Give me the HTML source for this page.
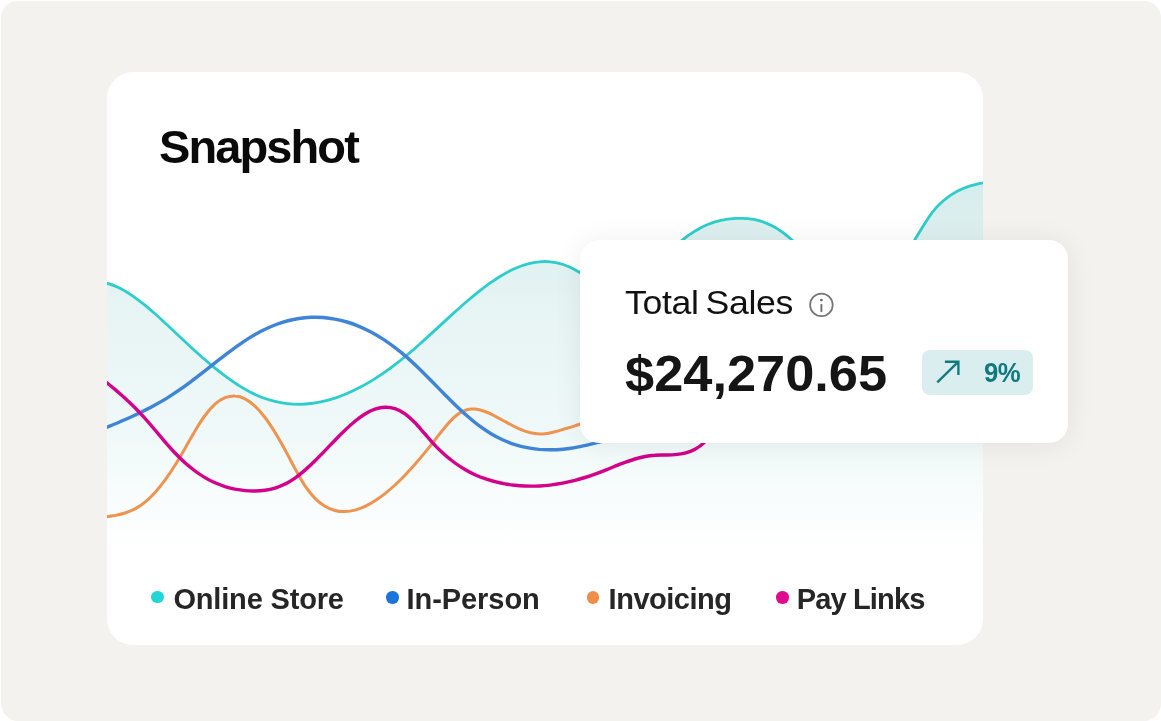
<!DOCTYPE html>
<html lang="en"><head><meta charset="utf-8"><title>Snapshot</title>
<style>
html,body{margin:0;padding:0;background:#fff;}
body{width:1161px;height:721px;overflow:hidden;position:relative;font-family:"Liberation Sans",sans-serif;}
.bg{position:absolute;left:0.6px;top:0.6px;width:1160.4px;height:720.4px;background:#f3f2ee;border-radius:17px;}
.card{position:absolute;left:107px;top:72px;width:875.5px;height:573px;background:#fff;border-radius:26px;overflow:hidden;}
.card svg{position:absolute;left:0;top:0;}
.title{position:absolute;left:159px;top:119.5px;font-size:47px;font-weight:700;color:#0a0a0a;letter-spacing:-1.9px;line-height:54px;white-space:nowrap;}
.legend{position:absolute;top:582.4px;height:34px;line-height:34px;font-size:29px;font-weight:700;color:#262626;white-space:nowrap;}
.dot{position:absolute;width:12.5px;height:12.5px;border-radius:50%;}
.tip{position:absolute;left:579.6px;top:239.5px;width:488.4px;height:203.5px;background:#fff;border-radius:19px;box-shadow:0 2px 28px rgba(0,0,0,.075);}
.ts{position:absolute;left:625px;top:283px;font-size:33px;line-height:40px;color:#111;white-space:nowrap;letter-spacing:-0.3px;word-spacing:-2.5px;transform:scaleX(1.08);transform-origin:0 0;}
.amt{position:absolute;left:625px;top:344.5px;font-size:49.5px;line-height:58px;font-weight:700;color:#151515;white-space:nowrap;letter-spacing:0;transform:scaleX(1.058);transform-origin:0 0;}
.badge{position:absolute;left:922px;top:350px;width:111px;height:45px;border-radius:8px;background:#dbeeef;}
.pct{position:absolute;left:983.8px;top:356.6px;font-size:28px;line-height:32px;font-weight:700;color:#117a80;white-space:nowrap;letter-spacing:-0.5px;transform:scaleX(.92);transform-origin:0 0;}
.ico{position:absolute;left:0;top:0;}
</style></head><body>
<div class="bg"></div>
<div class="card">
<svg width="876" height="573" viewBox="107 72 876 573">
<defs><linearGradient id="g" x1="0" y1="180" x2="0" y2="548" gradientUnits="userSpaceOnUse">
<stop offset="0" stop-color="#d6ecec"/><stop offset="0.33" stop-color="#e6f4f3"/><stop offset="0.7" stop-color="#f0f9f9"/><stop offset="1" stop-color="#ffffff"/></linearGradient></defs>
<path d="M95.0,281.3 C97.0,281.6 103.0,282.1 107.0,283.2 C111.0,284.2 115.0,285.9 119.0,287.8 C123.0,289.7 127.0,292.2 131.0,294.8 C135.0,297.4 139.0,300.5 143.0,303.6 C147.0,306.8 151.0,310.3 155.0,313.8 C159.0,317.3 163.0,321.1 167.0,324.8 C171.0,328.5 175.0,332.3 179.0,336.1 C183.0,339.8 187.0,343.6 191.0,347.2 C195.0,350.9 199.0,354.5 203.0,358.0 C207.0,361.5 211.0,364.9 215.0,368.2 C219.0,371.4 223.0,374.5 227.0,377.4 C231.0,380.4 235.0,383.1 239.0,385.6 C243.0,388.1 247.0,390.4 251.0,392.5 C255.0,394.5 259.0,396.3 263.0,397.8 C267.0,399.3 271.0,400.5 275.0,401.4 C279.0,402.4 283.0,403.1 287.0,403.6 C291.0,404.1 295.0,404.3 299.0,404.3 C303.0,404.2 307.0,404.0 311.0,403.5 C315.0,403.0 319.0,402.3 323.0,401.4 C327.0,400.5 331.0,399.4 335.0,398.1 C339.0,396.8 343.0,395.2 347.0,393.5 C351.0,391.8 355.0,389.9 359.0,387.8 C363.0,385.8 367.0,383.5 371.0,381.1 C375.0,378.6 379.0,376.1 383.0,373.3 C387.0,370.6 391.0,367.7 395.0,364.6 C399.0,361.6 403.0,358.4 407.0,355.0 C411.0,351.7 415.0,348.3 419.0,344.7 C423.0,341.2 427.0,337.6 431.0,333.9 C435.0,330.3 439.0,326.5 443.0,322.9 C447.0,319.2 451.0,315.5 455.0,311.9 C459.0,308.3 463.0,304.8 467.0,301.3 C471.0,297.9 475.0,294.6 479.0,291.4 C483.0,288.3 487.0,285.2 491.0,282.4 C495.0,279.7 499.0,277.0 503.0,274.7 C507.0,272.4 511.0,270.2 515.0,268.5 C519.0,266.7 523.0,265.2 527.0,264.1 C531.0,263.0 535.0,262.1 539.0,261.8 C543.0,261.4 547.0,261.4 551.0,261.9 C555.0,262.3 559.0,263.2 563.0,264.5 C567.0,265.8 571.0,267.5 575.0,269.7 C579.0,271.8 583.0,274.4 587.0,277.4 C591.0,280.4 595.2,284.1 599.0,287.7 C602.8,291.4 608.2,297.4 610.0,299.4 L612,330 L664,330 L664.0,258.0 C665.0,256.9 668.0,253.6 670.0,251.5 C672.0,249.5 674.0,247.5 676.0,245.6 C678.0,243.8 680.0,242.0 682.0,240.4 C684.0,238.7 686.0,237.2 688.0,235.7 C690.0,234.3 692.0,232.9 694.0,231.7 C696.0,230.4 698.0,229.3 700.0,228.2 C702.0,227.1 704.0,226.2 706.0,225.3 C708.0,224.4 710.0,223.6 712.0,222.9 C714.0,222.2 716.0,221.6 718.0,221.1 C720.0,220.5 722.0,220.1 724.0,219.8 C726.0,219.4 728.0,219.2 730.0,218.9 C732.0,218.7 734.0,218.5 736.0,218.4 C738.0,218.3 740.0,218.3 742.0,218.3 C744.0,218.3 746.0,218.4 748.0,218.6 C750.0,218.8 752.0,219.0 754.0,219.4 C756.0,219.8 758.0,220.3 760.0,220.9 C762.0,221.6 764.0,222.3 766.0,223.1 C768.0,223.9 770.0,224.8 772.0,225.8 C774.0,226.8 776.0,227.9 778.0,229.2 C780.0,230.4 782.0,231.9 784.0,233.4 C786.0,234.9 788.0,236.6 790.0,238.3 C792.0,240.0 794.0,241.7 796.0,243.6 C798.0,245.5 800.0,247.4 802.0,249.6 C804.0,251.9 807.0,255.8 808.0,257.0 L808,330 L900,330 L900.0,268.0 C901.0,266.0 904.0,259.6 906.0,255.8 C908.0,251.9 910.0,248.3 912.0,244.8 C914.0,241.3 916.0,237.9 918.0,234.6 C920.0,231.3 922.0,228.0 924.0,224.8 C926.0,221.6 928.0,218.4 930.0,215.6 C932.0,212.7 934.0,210.2 936.0,207.9 C938.0,205.7 940.0,203.8 942.0,202.0 C944.0,200.2 946.0,198.7 948.0,197.2 C950.0,195.7 952.0,194.3 954.0,193.1 C956.0,191.9 958.0,190.8 960.0,189.9 C962.0,188.9 964.0,188.2 966.0,187.4 C968.0,186.7 970.0,186.0 972.0,185.4 C974.0,184.8 976.0,184.3 978.0,183.8 C980.0,183.4 982.0,183.1 984.0,182.8 C986.0,182.5 988.0,182.2 990.0,182.0 C992.0,181.8 994.3,181.6 996.0,181.4 C997.7,181.3 999.3,181.2 1000.0,181.2 L1000,560 L95,560 Z" fill="url(#g)"/>
<path d="M95.0,281.3 C97.0,281.6 103.0,282.1 107.0,283.2 C111.0,284.2 115.0,285.9 119.0,287.8 C123.0,289.7 127.0,292.2 131.0,294.8 C135.0,297.4 139.0,300.5 143.0,303.6 C147.0,306.8 151.0,310.3 155.0,313.8 C159.0,317.3 163.0,321.1 167.0,324.8 C171.0,328.5 175.0,332.3 179.0,336.1 C183.0,339.8 187.0,343.6 191.0,347.2 C195.0,350.9 199.0,354.5 203.0,358.0 C207.0,361.5 211.0,364.9 215.0,368.2 C219.0,371.4 223.0,374.5 227.0,377.4 C231.0,380.4 235.0,383.1 239.0,385.6 C243.0,388.1 247.0,390.4 251.0,392.5 C255.0,394.5 259.0,396.3 263.0,397.8 C267.0,399.3 271.0,400.5 275.0,401.4 C279.0,402.4 283.0,403.1 287.0,403.6 C291.0,404.1 295.0,404.3 299.0,404.3 C303.0,404.2 307.0,404.0 311.0,403.5 C315.0,403.0 319.0,402.3 323.0,401.4 C327.0,400.5 331.0,399.4 335.0,398.1 C339.0,396.8 343.0,395.2 347.0,393.5 C351.0,391.8 355.0,389.9 359.0,387.8 C363.0,385.8 367.0,383.5 371.0,381.1 C375.0,378.6 379.0,376.1 383.0,373.3 C387.0,370.6 391.0,367.7 395.0,364.6 C399.0,361.6 403.0,358.4 407.0,355.0 C411.0,351.7 415.0,348.3 419.0,344.7 C423.0,341.2 427.0,337.6 431.0,333.9 C435.0,330.3 439.0,326.5 443.0,322.9 C447.0,319.2 451.0,315.5 455.0,311.9 C459.0,308.3 463.0,304.8 467.0,301.3 C471.0,297.9 475.0,294.6 479.0,291.4 C483.0,288.3 487.0,285.2 491.0,282.4 C495.0,279.7 499.0,277.0 503.0,274.7 C507.0,272.4 511.0,270.2 515.0,268.5 C519.0,266.7 523.0,265.2 527.0,264.1 C531.0,263.0 535.0,262.1 539.0,261.8 C543.0,261.4 547.0,261.4 551.0,261.9 C555.0,262.3 559.0,263.2 563.0,264.5 C567.0,265.8 571.0,267.5 575.0,269.7 C579.0,271.8 583.0,274.4 587.0,277.4 C591.0,280.4 595.2,284.1 599.0,287.7 C602.8,291.4 608.2,297.4 610.0,299.4 L612,330 L664,330 L664.0,258.0 C665.0,256.9 668.0,253.6 670.0,251.5 C672.0,249.5 674.0,247.5 676.0,245.6 C678.0,243.8 680.0,242.0 682.0,240.4 C684.0,238.7 686.0,237.2 688.0,235.7 C690.0,234.3 692.0,232.9 694.0,231.7 C696.0,230.4 698.0,229.3 700.0,228.2 C702.0,227.1 704.0,226.2 706.0,225.3 C708.0,224.4 710.0,223.6 712.0,222.9 C714.0,222.2 716.0,221.6 718.0,221.1 C720.0,220.5 722.0,220.1 724.0,219.8 C726.0,219.4 728.0,219.2 730.0,218.9 C732.0,218.7 734.0,218.5 736.0,218.4 C738.0,218.3 740.0,218.3 742.0,218.3 C744.0,218.3 746.0,218.4 748.0,218.6 C750.0,218.8 752.0,219.0 754.0,219.4 C756.0,219.8 758.0,220.3 760.0,220.9 C762.0,221.6 764.0,222.3 766.0,223.1 C768.0,223.9 770.0,224.8 772.0,225.8 C774.0,226.8 776.0,227.9 778.0,229.2 C780.0,230.4 782.0,231.9 784.0,233.4 C786.0,234.9 788.0,236.6 790.0,238.3 C792.0,240.0 794.0,241.7 796.0,243.6 C798.0,245.5 800.0,247.4 802.0,249.6 C804.0,251.9 807.0,255.8 808.0,257.0 L808,330 L900,330 L900.0,268.0 C901.0,266.0 904.0,259.6 906.0,255.8 C908.0,251.9 910.0,248.3 912.0,244.8 C914.0,241.3 916.0,237.9 918.0,234.6 C920.0,231.3 922.0,228.0 924.0,224.8 C926.0,221.6 928.0,218.4 930.0,215.6 C932.0,212.7 934.0,210.2 936.0,207.9 C938.0,205.7 940.0,203.8 942.0,202.0 C944.0,200.2 946.0,198.7 948.0,197.2 C950.0,195.7 952.0,194.3 954.0,193.1 C956.0,191.9 958.0,190.8 960.0,189.9 C962.0,188.9 964.0,188.2 966.0,187.4 C968.0,186.7 970.0,186.0 972.0,185.4 C974.0,184.8 976.0,184.3 978.0,183.8 C980.0,183.4 982.0,183.1 984.0,182.8 C986.0,182.5 988.0,182.2 990.0,182.0 C992.0,181.8 994.3,181.6 996.0,181.4 C997.7,181.3 999.3,181.2 1000.0,181.2" fill="none" stroke="#2ccdcb" stroke-width="2.8"/>
<path d="M95.0,519.0 C96.7,518.7 101.7,517.7 105.0,517.1 C108.3,516.5 111.7,516.1 115.0,515.5 C118.3,514.8 121.7,514.1 125.0,513.0 C128.3,511.9 131.7,510.7 135.0,508.9 C138.3,507.1 141.7,504.9 145.0,502.1 C148.3,499.4 151.7,496.1 155.0,492.4 C158.3,488.8 161.7,484.6 165.0,480.1 C168.3,475.6 171.7,470.6 175.0,465.3 C178.3,460.0 181.7,454.1 185.0,448.4 C188.3,442.7 191.7,436.4 195.0,430.9 C198.3,425.4 201.7,419.9 205.0,415.5 C208.3,411.0 211.7,407.2 215.0,404.2 C218.3,401.3 221.7,399.1 225.0,397.7 C228.3,396.4 231.7,395.8 235.0,396.0 C238.3,396.1 241.7,397.1 245.0,398.8 C248.3,400.5 251.7,403.0 255.0,406.1 C258.3,409.2 261.7,413.1 265.0,417.5 C268.3,421.8 271.7,427.0 275.0,432.4 C278.3,437.8 281.7,443.8 285.0,449.8 C288.3,455.8 291.7,462.5 295.0,468.6 C298.3,474.6 301.7,480.9 305.0,485.9 C308.3,490.9 311.7,495.0 315.0,498.4 C318.3,501.8 321.7,504.3 325.0,506.3 C328.3,508.3 331.7,509.6 335.0,510.5 C338.3,511.4 341.7,511.7 345.0,511.6 C348.3,511.5 351.7,511.0 355.0,510.1 C358.3,509.2 361.7,507.9 365.0,506.3 C368.3,504.8 371.7,502.9 375.0,500.7 C378.3,498.6 381.7,496.2 385.0,493.6 C388.3,491.0 391.7,488.1 395.0,485.0 C398.3,481.9 401.7,478.6 405.0,475.2 C408.3,471.7 411.7,468.1 415.0,464.3 C418.3,460.5 421.7,456.5 425.0,452.4 C428.3,448.4 431.7,444.1 435.0,439.8 C438.3,435.6 441.7,431.1 445.0,427.2 C448.3,423.3 451.7,419.4 455.0,416.5 C458.3,413.7 461.7,411.5 465.0,410.3 C468.3,409.0 471.7,408.8 475.0,409.0 C478.3,409.2 481.7,410.3 485.0,411.5 C488.3,412.6 491.7,414.4 495.0,416.1 C498.3,417.8 501.7,419.7 505.0,421.5 C508.3,423.3 511.7,425.2 515.0,426.8 C518.3,428.4 521.7,430.0 525.0,431.1 C528.3,432.2 531.7,433.2 535.0,433.6 C538.3,434.1 541.7,434.0 545.0,433.7 C548.3,433.4 551.7,432.5 555.0,431.7 C558.3,430.9 561.7,429.8 565.0,428.8 C568.3,427.9 571.7,426.9 575.0,425.8 C578.3,424.8 581.7,423.7 585.0,422.5 C588.3,421.3 591.7,420.1 595.0,418.8 C598.3,417.4 602.5,415.6 605.0,414.5 C607.5,413.3 609.2,412.4 610.0,412.0" fill="none" stroke="#ee9450" stroke-width="3"/>
<path d="M95.0,431.8 C97.0,431.0 103.0,428.7 107.0,427.1 C111.0,425.5 115.0,423.9 119.0,422.2 C123.0,420.5 127.0,418.8 131.0,417.0 C135.0,415.2 139.0,413.3 143.0,411.3 C147.0,409.3 151.0,407.3 155.0,405.0 C159.0,402.8 163.0,400.5 167.0,398.1 C171.0,395.6 175.0,393.0 179.0,390.2 C183.0,387.5 187.0,384.6 191.0,381.6 C195.0,378.6 199.0,375.4 203.0,372.3 C207.0,369.2 211.0,366.0 215.0,362.9 C219.0,359.7 223.0,356.6 227.0,353.6 C231.0,350.6 235.0,347.6 239.0,344.8 C243.0,342.0 247.0,339.4 251.0,336.9 C255.0,334.5 259.0,332.3 263.0,330.3 C267.0,328.3 271.0,326.5 275.0,325.0 C279.0,323.4 283.0,322.1 287.0,321.0 C291.0,320.0 295.0,319.1 299.0,318.5 C303.0,317.9 307.0,317.5 311.0,317.3 C315.0,317.1 319.0,317.2 323.0,317.5 C327.0,317.8 331.0,318.3 335.0,319.1 C339.0,319.8 343.0,320.8 347.0,322.0 C351.0,323.2 355.0,324.7 359.0,326.3 C363.0,328.0 367.0,329.9 371.0,332.0 C375.0,334.2 379.0,336.5 383.0,339.1 C387.0,341.7 391.0,344.5 395.0,347.6 C399.0,350.6 403.0,353.9 407.0,357.4 C411.0,360.9 415.0,364.7 419.0,368.5 C423.0,372.4 427.0,376.5 431.0,380.5 C435.0,384.5 439.0,388.7 443.0,392.7 C447.0,396.7 451.0,400.8 455.0,404.7 C459.0,408.5 463.0,412.3 467.0,415.8 C471.0,419.3 475.0,422.7 479.0,425.7 C483.0,428.6 487.0,431.3 491.0,433.7 C495.0,436.1 499.0,438.1 503.0,440.0 C507.0,441.8 511.0,443.3 515.0,444.6 C519.0,445.8 523.0,446.8 527.0,447.6 C531.0,448.4 535.0,449.0 539.0,449.4 C543.0,449.7 547.0,449.9 551.0,449.8 C555.0,449.8 559.0,449.6 563.0,449.2 C567.0,448.8 571.0,448.3 575.0,447.6 C579.0,447.0 583.0,446.1 587.0,445.2 C591.0,444.3 595.0,443.3 599.0,442.2 C603.0,441.1 607.0,439.8 611.0,438.6 C615.0,437.3 619.8,435.7 623.0,434.6 C626.2,433.5 628.8,432.6 630.0,432.2" fill="none" stroke="#3f84d6" stroke-width="3.4"/>
<path d="M95.0,373.2 C96.7,374.6 101.7,378.5 105.0,381.2 C108.3,383.9 111.7,386.6 115.0,389.4 C118.3,392.3 121.7,395.1 125.0,398.2 C128.3,401.2 131.7,404.4 135.0,407.7 C138.3,411.1 141.7,414.7 145.0,418.4 C148.3,422.1 151.7,426.1 155.0,430.0 C158.3,433.9 161.7,438.0 165.0,441.8 C168.3,445.6 171.7,449.5 175.0,453.0 C178.3,456.5 181.7,459.8 185.0,462.8 C188.3,465.8 191.7,468.5 195.0,471.0 C198.3,473.5 201.7,475.6 205.0,477.6 C208.3,479.6 211.7,481.3 215.0,482.8 C218.3,484.3 221.7,485.5 225.0,486.6 C228.3,487.6 231.7,488.5 235.0,489.2 C238.3,489.8 241.7,490.3 245.0,490.6 C248.3,490.9 251.7,491.1 255.0,491.0 C258.3,491.0 261.7,490.8 265.0,490.3 C268.3,489.8 271.7,489.1 275.0,488.1 C278.3,487.1 281.7,485.8 285.0,484.1 C288.3,482.5 291.7,480.4 295.0,478.1 C298.3,475.7 301.7,473.0 305.0,470.1 C308.3,467.2 311.7,464.0 315.0,460.7 C318.3,457.5 321.7,454.0 325.0,450.6 C328.3,447.2 331.7,443.6 335.0,440.2 C338.3,436.8 341.7,433.4 345.0,430.3 C348.3,427.1 351.7,424.0 355.0,421.3 C358.3,418.6 361.7,416.0 365.0,414.0 C368.3,412.0 371.7,410.2 375.0,409.1 C378.3,408.0 381.7,407.3 385.0,407.2 C388.3,407.1 391.7,407.6 395.0,408.7 C398.3,409.8 401.7,411.5 405.0,413.9 C408.3,416.2 411.7,419.5 415.0,422.8 C418.3,426.2 421.7,430.3 425.0,434.0 C428.3,437.8 431.7,441.8 435.0,445.3 C438.3,448.8 441.7,452.0 445.0,455.0 C448.3,457.9 451.7,460.6 455.0,463.0 C458.3,465.4 461.7,467.6 465.0,469.5 C468.3,471.5 471.7,473.2 475.0,474.7 C478.3,476.2 481.7,477.5 485.0,478.7 C488.3,479.9 491.7,480.8 495.0,481.7 C498.3,482.6 501.7,483.3 505.0,483.9 C508.3,484.5 511.7,484.9 515.0,485.3 C518.3,485.7 521.7,485.9 525.0,486.0 C528.3,486.2 531.7,486.2 535.0,486.1 C538.3,486.1 541.7,485.9 545.0,485.6 C548.3,485.3 551.7,484.9 555.0,484.4 C558.3,483.9 561.7,483.4 565.0,482.7 C568.3,482.0 571.7,481.2 575.0,480.4 C578.3,479.5 581.7,478.5 585.0,477.5 C588.3,476.5 591.7,475.3 595.0,474.1 C598.3,472.9 601.7,471.6 605.0,470.3 C608.3,469.0 611.7,467.6 615.0,466.2 C618.3,464.9 621.7,463.6 625.0,462.4 C628.3,461.2 631.7,460.0 635.0,459.0 C638.3,458.0 641.7,457.2 645.0,456.5 C648.3,455.9 651.7,455.5 655.0,455.3 C658.3,455.0 661.7,455.1 665.0,455.0 C668.3,454.9 671.7,454.9 675.0,454.6 C678.3,454.3 681.7,454.0 685.0,453.1 C688.3,452.2 691.7,451.1 695.0,449.2 C698.3,447.4 701.7,445.1 705.0,441.9 C708.3,438.7 713.3,431.8 715.0,429.8" fill="none" stroke="#d2008a" stroke-width="3.4"/>
</svg>
</div>
<div class="title">Snapshot</div>
<div class="dot" style="left:151.2px;top:590.8px;background:#20d6d6"></div>
<div class="legend" style="left:173.4px;letter-spacing:-0.17px">Online Store</div>
<div class="dot" style="left:386.3px;top:591.2px;background:#1b74d8"></div>
<div class="legend" style="left:406.5px;letter-spacing:-0.06px">In-Person</div>
<div class="dot" style="left:586.5px;top:591.2px;background:#f08d48"></div>
<div class="legend" style="left:608.6px;letter-spacing:-0.49px">Invoicing</div>
<div class="dot" style="left:776.2px;top:591.2px;background:#df0a8e"></div>
<div class="legend" style="left:796.8px;letter-spacing:-0.86px">Pay Links</div>
<div class="tip"></div>
<div class="ts">Total Sales</div>
<div class="amt">$24,270.65</div>
<div class="badge"></div>
<div class="pct">9%</div>
<svg class="ico" width="1161" height="721" viewBox="0 0 1161 721" style="pointer-events:none">
<circle cx="821.4" cy="304.9" r="11.3" fill="none" stroke="#757575" stroke-width="1.75"/>
<line x1="821.4" y1="304.1" x2="821.4" y2="311.9" stroke="#6e6e6e" stroke-width="1.9"/>
<circle cx="821.4" cy="300.1" r="1.45" fill="#6e6e6e"/>
<path d="M937.3,382.4 L958.4,361.7 M944.9,361.7 L958.4,361.7 L958.4,374.9" fill="none" stroke="#117a80" stroke-width="2.35" stroke-linejoin="miter"/>
</svg>
</body></html>
